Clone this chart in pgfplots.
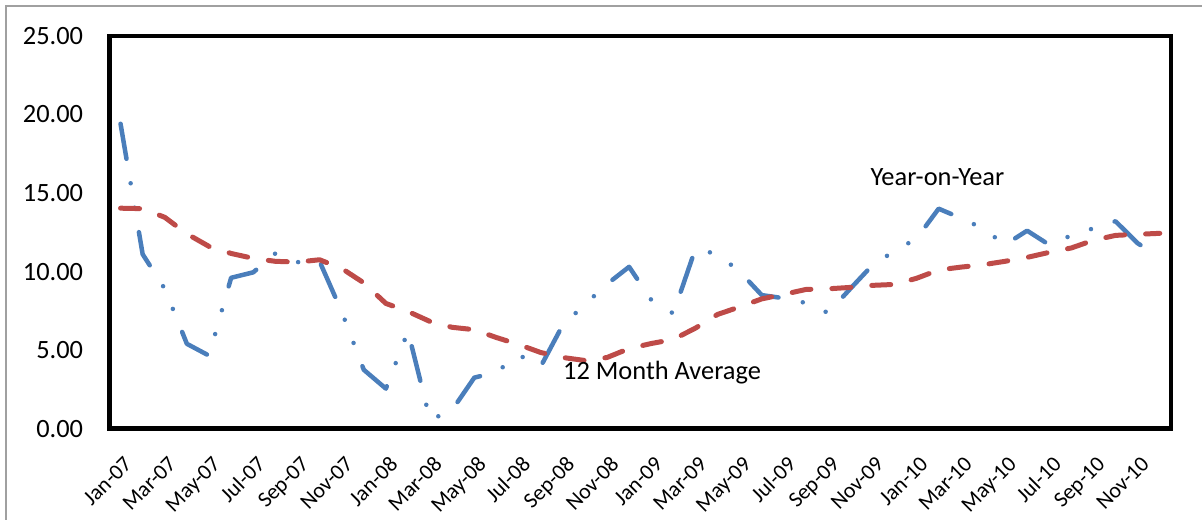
\documentclass[border=0pt]{standalone}
\usepackage{fontspec}
\setmainfont{Carlito}
\usepackage{pgfplots}
\pgfplotsset{compat=1.18}
\definecolor{yoy}{HTML}{4A7EBB}
\definecolor{avg}{HTML}{BE4B48}
\definecolor{frame}{HTML}{A0A0A0}

\pgfplotstableread{
x y
0 19.4
1 11.1
2 8.9
3 5.4
4 4.65
5 9.6
6 9.95
7 11.15
8 10.6
9 10.65
10 7.45
11 3.75
12 2.55
13 6.2
14 0.55
15 1.2
16 3.25
17 3.6
18 4.7
19 3.95
20 6.6
21 7.9
22 9.2
23 10.3
24 8.2
25 7.33
26 11.45
27 11.1
28 10.0
29 8.5
30 8.3
31 8.0
32 7.37
33 8.9
34 10.4
35 11.3
36 12.1
37 14.0
38 13.4
39 12.75
40 11.7
41 12.6
42 11.7
43 12.3
44 12.75
45 13.2
46 11.8
47 10.9
}\yoytable

\pgfplotstableread{
x y
0 14.03
1 14.0
2 13.45
3 12.4
4 11.6
5 11.15
6 10.84
7 10.65
8 10.6
9 10.75
10 10.2
11 9.28
12 7.97
13 7.46
14 6.82
15 6.45
16 6.3
17 5.8
18 5.36
19 4.85
20 4.53
21 4.34
22 4.53
23 5.1
24 5.42
25 5.68
26 6.4
27 7.27
28 7.75
29 8.26
30 8.55
31 8.86
32 8.9
33 8.99
34 9.12
35 9.18
36 9.57
37 10.1
38 10.28
39 10.43
40 10.65
41 10.9
42 11.22
43 11.5
44 11.99
45 12.3
46 12.37
47 12.43
}\avgtable

\begin{document}
\fontsize{13.2pt}{15pt}\selectfont
\begin{tikzpicture}
\useasboundingbox (0,0) rectangle (601pt,259.5pt);
\draw[frame, line width=1pt] (3pt,-2pt) -- (3pt,256.5pt) -- (603pt,256.5pt);
\begin{axis}[
  at={(54.75pt,45.15pt)}, anchor=south west,
  scale only axis, width=530.65pt, height=196.45pt,
  xmin=-0.5, xmax=47.5, ymin=0, ymax=25,
  axis line style={line width=2.25pt, black},
  major tick length=0pt,
  xtick={0,2,...,46},
  xticklabels={Jan-07,Mar-07,May-07,Jul-07,Sep-07,Nov-07,Jan-08,Mar-08,May-08,Jul-08,Sep-08,Nov-08,Jan-09,Mar-09,May-09,Jul-09,Sep-09,Nov-09,Jan-10,Mar-10,May-10,Jul-10,Sep-10,Nov-10},
  ytick={0,5,...,25},
  /pgf/number format/.cd, fixed, fixed zerofill, precision=2, assume math mode=true,
  /pgfplots/.cd,
  yticklabel style={inner sep=0pt, xshift=-13pt, font=\fontsize{13.2pt}{15pt}\selectfont},
  xticklabel style={inner sep=0pt, anchor=north east, xshift=1.2pt, yshift=-13pt, rotate=45, font=\fontsize{11pt}{13pt}\selectfont},
  clip=false,
]
\addplot[yoy, line width=2.25pt, line cap=round, line join=round,
  dash pattern=on 17.75pt off 12.4pt on 0pt off 12.4pt on 0pt off 12.4pt]
  table[x=x, y=y] {\yoytable};
\addplot[avg, line width=2.5pt, line cap=round, line join=round,
  dash pattern=on 9.5pt off 10.5pt]
  table[x=x, y=y] {\avgtable};
\node[anchor=base west, inner sep=0pt] at (axis cs:33.9,15.5) {Year-on-Year};
\node[anchor=base west, inner sep=0pt] at (axis cs:20.0,3.14) {12 Month Average};
\end{axis}
\end{tikzpicture}
\end{document}
